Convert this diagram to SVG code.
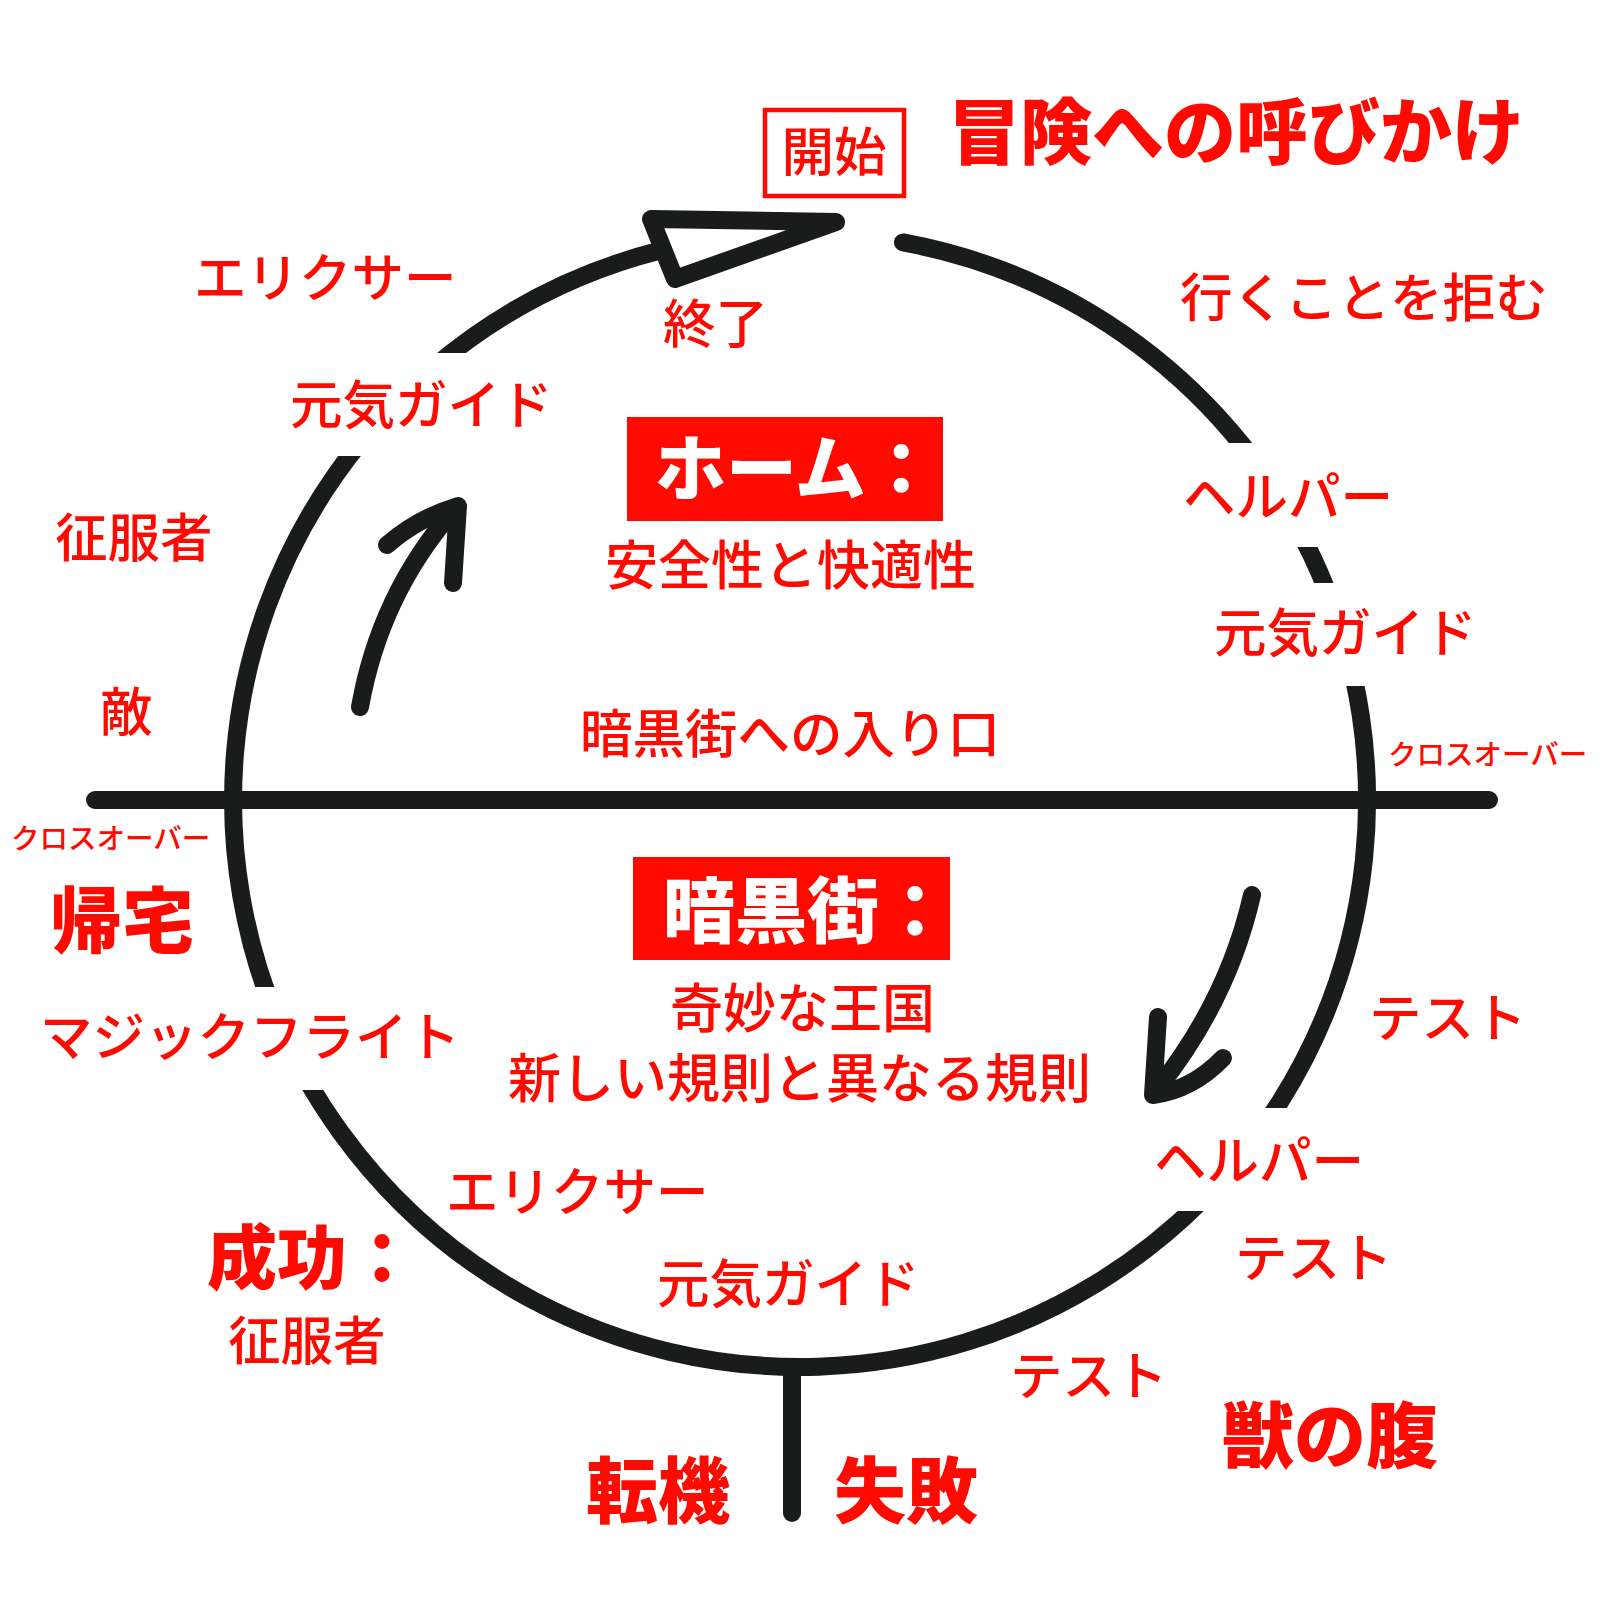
<svg xmlns="http://www.w3.org/2000/svg" width="1600" height="1600" viewBox="0 0 1600 1600">
<style>
.ln{fill:none;stroke:#1a1c1c;stroke-width:18;stroke-linecap:round;stroke-linejoin:round}
.t{font-family:"Noto Sans CJK JP","Noto Sans",sans-serif;fill:#ff0a00;font-size:52.5px;font-weight:500}
.h{font-family:"Noto Sans CJK JP","Noto Sans",sans-serif;fill:#ff0a00;font-weight:900;font-size:72px}
.w{fill:#ffffff}
.s{font-size:28.5px}
.box{fill:#ff0a00}
</style>
<defs>
<mask id="gaps" maskUnits="userSpaceOnUse" x="0" y="0" width="1600" height="1600">
<rect x="0" y="0" width="1600" height="1600" fill="#fff"/>
<rect x="800" y="443" width="800" height="104" fill="#000"/>
<rect x="800" y="583" width="800" height="103" fill="#000"/>
<rect x="800" y="1108" width="800" height="103" fill="#000"/>
<rect x="0" y="353" width="800" height="103" fill="#000"/>
<rect x="0" y="987" width="800" height="103" fill="#000"/>
</mask>
</defs>
<rect width="1600" height="1600" fill="#fff"/>
<g id="connectors">
<path class="ln" mask="url(#gaps)" d="M903,242.4 A567,567 0 1 1 661,250.3"/>
<polygon class="ln" points="651,219 836,222 675,279" style="fill:#fff"/>
<line class="ln" x1="95" y1="800" x2="1489" y2="800" stroke-width="17"/>
<line class="ln" x1="792" y1="1367" x2="792" y2="1513"/>
<path class="ln" d="M360,707 Q380,595 452,512"/>
<path class="ln" d="M387,545 Q418,518 458,506 L453,583"/>
<path class="ln" d="M1252,895 Q1228,1000 1158,1088"/>
<path class="ln" d="M1158,1017 L1153,1095 Q1192,1090 1223,1058"/>
</g>
<g id="start">
<rect x="765" y="110" width="139" height="86" fill="none" stroke="#ff0a00" stroke-width="4.5"/>
<text class="t" x="834" y="171" text-anchor="middle">開始</text>
</g>
<g id="call"><text class="h" x="948" y="158">冒険への呼びかけ</text></g>
<g id="refuse"><text class="t" x="1180" y="317">行くことを拒む</text></g>
<g id="elixir1"><text class="t" x="194" y="297">エリクサー</text></g>
<g id="end"><text class="t" x="663" y="343">終了</text></g>
<g id="guide1"><text class="t" x="290" y="424">元気ガイド</text></g>
<g id="helper1"><text class="t" x="1183" y="516">ヘルパー</text></g>
<g id="guide2"><text class="t" x="1214" y="652">元気ガイド</text></g>
<g id="conqueror1"><text class="t" x="55" y="557">征服者</text></g>
<g id="home">
<rect class="box" x="627" y="417" width="316" height="104"/>
<text class="h w" x="655" y="494" style="font-size:71px">ホーム：</text>
<text class="t" x="605" y="585" style="font-size:53px">安全性と快適性</text>
</g>
<g id="enemy"><text class="t" x="100" y="731">敵</text></g>
<g id="entrance"><text class="t" x="580" y="753">暗黒街への入り口</text></g>
<g id="crossover1"><text class="t s" x="1388" y="765">クロスオーバー</text></g>
<g id="crossover2"><text class="t s" x="11" y="849">クロスオーバー</text></g>
<g id="return"><text class="h" x="50" y="947">帰宅</text></g>
<g id="underworld">
<rect class="box" x="633" y="857" width="317" height="103"/>
<text class="h w" x="663" y="937">暗黒街：</text>
<text class="t" x="670" y="1028" style="font-size:53px">奇妙な王国</text>
<text class="t" x="508" y="1098" style="font-size:53px">新しい規則と異なる規則</text>
</g>
<g id="test1"><text class="t" x="1369" y="1037">テスト</text></g>
<g id="flight"><text class="t" x="40" y="1056">マジックフライト</text></g>
<g id="helper2"><text class="t" x="1154" y="1180">ヘルパー</text></g>
<g id="elixir2"><text class="t" x="446" y="1211">エリクサー</text></g>
<g id="test2"><text class="t" x="1235" y="1277">テスト</text></g>
<g id="success">
<text class="h" x="207" y="1284" style="font-size:70px">成功：</text>
<text class="t" x="228" y="1360">征服者</text>
</g>
<g id="guide3"><text class="t" x="657" y="1303">元気ガイド</text></g>
<g id="test3"><text class="t" x="1010" y="1395">テスト</text></g>
<g id="belly"><text class="h" x="1222" y="1462">獣の腹</text></g>
<g id="turning"><text class="h" x="586" y="1517">転機</text></g>
<g id="failure"><text class="h" x="834" y="1517">失敗</text></g>
</svg>
